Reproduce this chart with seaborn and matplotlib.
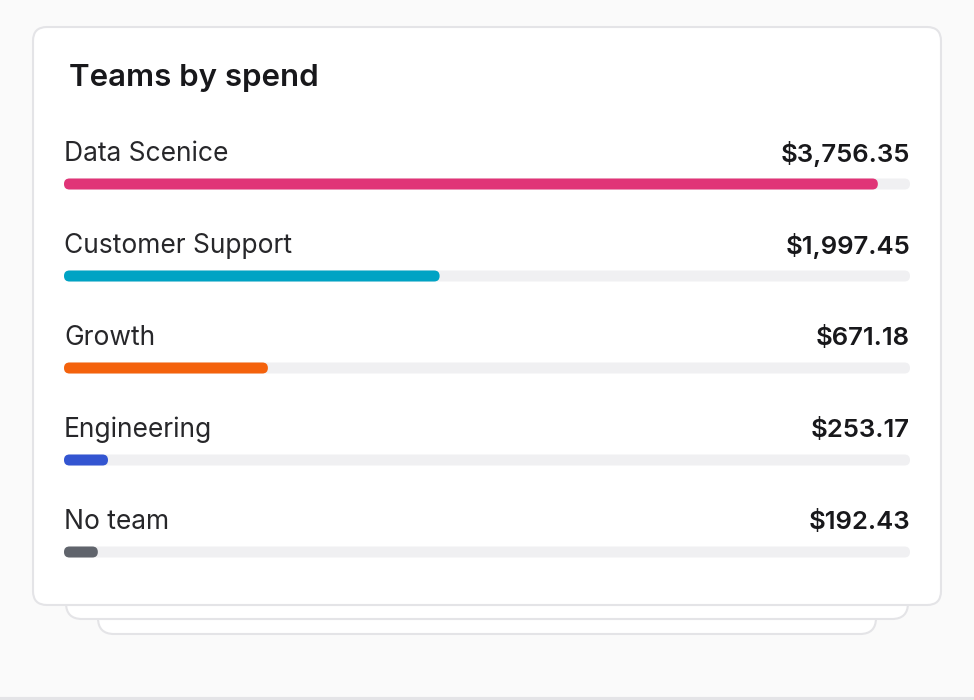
import numpy as np
import pandas as pd
import matplotlib
matplotlib.use('Agg')
import matplotlib.pyplot as plt
from matplotlib.patches import FancyBboxPatch
import seaborn as sns

teams = ['Data Scenice', 'Customer Support', 'Growth', 'Engineering', 'No team']
spend_labels = ['$3,756.35', '$1,997.45', '$671.18', '$253.17', '$192.43']
bar_share = [0.962, 0.444, 0.241, 0.052, 0.040]   # filled part of each track
bar_colors = ['#e03477', '#00a3c4', '#f4620c', '#3355d1', '#60646c']

df = pd.DataFrame({'team': teams, 'share': bar_share, 'track': 1.0})

sns.set_theme(style='white')
plt.rcParams['font.family'] = ['Inter', 'DejaVu Sans']

W, H = 974, 700
fig = plt.figure(figsize=(W / 100, H / 100), dpi=100)
fig.patch.set_facecolor('#fafafa')

# background axes in pixel units for the card shapes
bg = fig.add_axes([0, 0, 1, 1])
bg.set_xlim(0, W)
bg.set_ylim(H, 0)
bg.axis('off')


def card(x0, y0, x1, y1, r, fc='white', ec='#e4e4e7', z=1):
    bg.add_patch(FancyBboxPatch((x0, y0), x1 - x0, y1 - y0,
                                boxstyle=f'round,pad=0,rounding_size={r}',
                                fc=fc, ec=ec, lw=1.5, zorder=z))


card(98, 560, 876, 634, 16, z=1)
card(66, 560, 908, 619, 16, z=2)
card(33, 27, 941, 605, 14, z=3)
bg.axhline(698.5, color='#e4e4e7', lw=3, zorder=0)

fig.text(69 / W, 1 - 78 / H, 'Teams by spend', fontsize=22.5, fontweight='semibold',
         color='#18181b', va='center', ha='left')

# bar axes: track spans x 64..910 px, rows centred at 184 + 92*i px
left, right = 64, 910
top, bottom = 138, 598
ax = fig.add_axes([left / W, 1 - bottom / H, (right - left) / W, (bottom - top) / H])
ax.set_facecolor('none')

bar_h = 11 / 92
sns.barplot(data=df, x='track', y='team', orient='h', color='#f0f0f2',
            width=bar_h, saturation=1, ax=ax)
sns.barplot(data=df, x='share', y='team', orient='h', hue='team',
            palette=bar_colors, width=bar_h, saturation=1, legend=False, ax=ax)
ax.set_xlim(0, 1)
ax.set_ylim(4.5, -0.5)

# swap the square bars for rounded ones
px_x = 1 / (right - left)
aspect = (right - left) / 92
for p in list(ax.patches):
    x, y, w, h = p.get_x(), p.get_y(), p.get_width(), p.get_height()
    fc = p.get_facecolor()
    p.remove()
    ax.add_patch(FancyBboxPatch((x, y), w, h,
                                boxstyle=f'round,pad=0,rounding_size={5.5 * px_x}',
                                mutation_aspect=aspect, fc=fc, ec='none'))

for i, (name, val) in enumerate(zip(teams, spend_labels)):
    ax.text(0, i - 30 / 92, name, fontsize=19, color='#27272a',
            ha='left', va='center')
    ax.text(1, i - 30 / 92, val, fontsize=18.5, fontweight='semibold',
            color='#18181b', ha='right', va='center')

ax.axis('off')

fig.savefig('out.png', dpi=100, facecolor=fig.get_facecolor())
